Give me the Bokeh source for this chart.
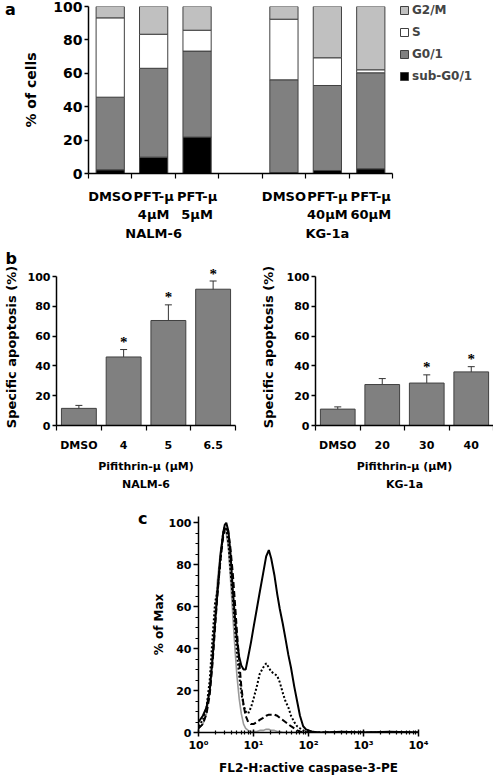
from bokeh.plotting import figure
from bokeh.models import (ColumnDataSource, FixedTicker, Legend, LegendItem, Div,
                          LabelSet, Whisker, TeeHead)
from bokeh.layouts import row
from bokeh.embed import file_html
from bokeh.resources import INLINE

FONT = "DejaVu Sans"

# ---------------- Panel a data ----------------
a_groups = ["NALM-6", "KG-1a"]
a_labels = ["DMSO", "PFT-µ\n4µM", "PFT-µ\n5µM", "DMSO", "PFT-µ\n40µM", "PFT-µ\n60µM"]
a_group_index = [0, 0, 0, 1, 1, 1]
a_series = ["sub-G0/1", "G0/1", "S", "G2/M"]
a_sub = [2.2, 9.8, 21.8, 0.5, 1.8, 2.8]
a_g01 = [43.5, 53.2, 51.5, 55.6, 50.9, 57.5]
a_s = [47.5, 20.4, 12.5, 36.3, 16.6, 1.8]
a_g2m = [6.8, 16.6, 14.2, 7.6, 30.7, 37.9]
a_colors = ["#000000", "#808080", "#ffffff", "#c0c0c0"]

# ---------------- Panel b data ----------------
bL_labels = ["DMSO", "4", "5", "6.5"]
bL_mean = [11.5, 46.0, 70.5, 91.5]
bL_err = [2.0, 5.0, 10.5, 5.5]
bL_sig = [False, True, True, True]
bR_labels = ["DMSO", "20", "30", "40"]
bR_mean = [11.0, 27.5, 28.5, 36.0]
bR_err = [1.5, 4.0, 5.5, 3.5]
bR_sig = [False, False, True, True]

# ---------------- Panel c data ----------------
c_fluor = [1.0, 1.2, 1.4, 1.6, 1.8, 2.0, 2.2, 2.5, 2.8, 3.0, 3.2, 3.5, 3.8, 4.2, 4.6, 5.0,
           5.5, 6.0, 6.6, 7.2, 8.0, 9.0, 10, 11.5, 13, 15, 17, 19, 21, 24, 27, 30, 34, 38,
           43, 48, 55, 62, 70, 80, 90, 100, 115, 130, 150, 200, 400, 1000, 3000, 10000]
c_solid = [5, 8, 12, 20, 35, 52, 66, 84, 95, 99, 100, 96, 86, 68, 55, 44, 36, 32, 30, 30,
           36, 43, 50, 59, 67, 76, 84, 87, 83, 75, 66, 59, 52, 45, 37, 31, 22, 15, 8, 3,
           1.5, 1, 0.5, 0.3, 0, 0, 0.3, 0, 0.3, 0]
c_dotted = [3, 6, 12, 25, 45, 62, 67, 82, 95, 98, 97, 90, 78, 64, 50, 38, 27, 19, 13, 10,
            9, 12, 16, 22, 28, 31, 33, 31, 29, 28, 27, 24, 19, 15, 12, 8, 5, 3, 2, 1,
            0.5, 0, 0, 0, 0, 0, 0, 0, 0, 0]
c_dashed = [2, 4, 9, 18, 33, 50, 65, 82, 93, 97, 98, 95, 88, 76, 62, 48, 34, 22, 13, 8,
            5, 4, 4, 5, 6, 7, 8, 8.5, 8.5, 8.5, 8, 7, 6, 5, 4, 3, 2, 1, 0.5, 0,
            0, 0, 0, 0, 0, 0, 0, 0, 0, 0]
c_gray = [2, 4, 9, 20, 38, 56, 72, 86, 94, 96, 95, 88, 74, 56, 40, 27, 16, 9, 4, 2,
          1, 0.5, 0.5, 0.5, 1, 1, 1.5, 1.5, 1, 1, 0.5, 0.5, 0, 0, 0, 0, 0, 0, 0, 0,
          0, 0, 0, 0, 0, 0, 0, 0, 0, 0]
c_xticks = [1, 10, 100, 1000, 10000]
c_xtick_labels = ["10⁰", "10¹", "10²", "10³", "10⁴"]


def base_fig(**kw):
    p = figure(output_backend="svg", toolbar_location=None, tools="", **kw)
    p.xgrid.visible = False
    p.ygrid.visible = False
    p.outline_line_color = None
    p.background_fill_color = "white"
    p.border_fill_color = "white"
    return p


def style_axis(ax, label_size, title_size):
    ax.axis_line_color = "black"
    ax.axis_line_width = 1.5
    ax.major_tick_line_color = "black"
    ax.major_tick_line_width = 1.5
    ax.minor_tick_line_color = "black"
    ax.minor_tick_line_width = 1.2
    ax.major_label_text_font = FONT
    ax.major_label_text_font_style = "bold"
    ax.major_label_text_font_size = label_size
    ax.major_label_text_color = "black"
    ax.axis_label_text_font = FONT
    ax.axis_label_text_font_style = "bold"
    ax.axis_label_text_font_size = title_size
    ax.axis_label_text_color = "black"


def letter_div(letter, width, height, pad_left, pad_top):
    html = ('<div style="width:%dpx;box-sizing:border-box;padding-left:%dpx;'
            'padding-top:%dpx;font-family:\'DejaVu Sans\';font-weight:bold;'
            'font-size:16px;line-height:18px;color:black">%s</div>'
            % (width, pad_left, pad_top, letter))
    return Div(text=html, width=width, height=height, margin=0)


# ======================= Panel a =======================
pa = base_fig(frame_width=304, frame_height=167, x_range=(0, 7), y_range=(0, 100),
              min_border_left=68, min_border_right=100, min_border_top=6, min_border_bottom=72)
slots = [g * 4 + k + 0.5 for g, k in zip(a_group_index, [0, 1, 2, 0, 1, 2])]
src_a = ColumnDataSource(dict(x=slots, sub=a_sub, g01=a_g01, s=a_s, g2m=a_g2m))
rs = pa.vbar_stack(["sub", "g01", "s", "g2m"], x="x", width=0.65, source=src_a,
                   fill_color=a_colors, line_color="#404040", line_width=1)

tick_text = {}
for i, (x, lab) in enumerate(zip(slots, a_labels)):
    g = a_group_index[i]
    members = [j for j in range(len(slots)) if a_group_index[j] == g]
    if i == members[len(members) // 2]:
        lab = lab + "\n" + a_groups[g]
    tick_text[x] = lab

xa = pa.xaxis[0]
xa.ticker = FixedTicker(ticks=slots, minor_ticks=list(range(0, 8)))
xa.major_label_overrides = tick_text
style_axis(xa, "13px", "13px")
xa.major_tick_out = 0
xa.major_tick_in = 0
xa.minor_tick_out = 5
xa.minor_tick_in = 0
xa.major_label_standoff = 10
xa.major_label_text_line_height = 1.25

ya = pa.yaxis[0]
ya.ticker = FixedTicker(ticks=[0, 20, 40, 60, 80, 100])
style_axis(ya, "14px", "14px")
ya.major_tick_out = 4
ya.major_tick_in = 0
ya.minor_tick_out = 0
ya.minor_tick_in = 0
ya.major_label_standoff = 2
ya.axis_label = "% of cells"
ya.axis_label_standoff = 11

legend = Legend(items=[LegendItem(label=a_series[i], renderers=[rs[i]]) for i in [3, 2, 1, 0]],
                location=(7, 90), glyph_width=10, glyph_height=10, label_height=12,
                spacing=8, padding=0, margin=0, border_line_color=None,
                background_fill_alpha=0, label_text_font=FONT, label_text_font_style="bold",
                label_text_font_size="12px", label_standoff=3)
pa.add_layout(legend, "right")


# ======================= Panel b =======================
def panel_b(fw, left, right, labels, mean, err, sig, cell, title_standoff, letter=None):
    p = base_fig(frame_width=fw, frame_height=157, x_range=(0, 4), y_range=(0, 105.4),
                 min_border_left=left, min_border_right=right, min_border_top=22,
                 min_border_bottom=71)
    xs = [i + 0.5 for i in range(len(labels))]
    src = ColumnDataSource(dict(x=xs, top=mean,
                                upper=[m + e for m, e in zip(mean, err)],
                                lower=[m - e for m, e in zip(mean, err)]))
    p.vbar(x="x", top="top", width=0.78, source=src, fill_color="#808080",
           line_color="#404040", line_width=1)
    p.add_layout(Whisker(base="x", upper="upper", lower="lower", source=src,
                         line_color="#333333", line_width=1,
                         upper_head=TeeHead(size=7, line_color="#333333", line_width=1),
                         lower_head=TeeHead(size=7, line_color="#333333", line_width=1)))
    sx = [x for x, s in zip(xs, sig) if s]
    sy = [m + e + 5 for m, e, s in zip(mean, err, sig) if s]
    ssrc = ColumnDataSource(dict(x=sx, y=sy, t=["*"] * len(sx)))
    p.add_layout(LabelSet(x="x", y="y", text="t", source=ssrc, text_font=FONT,
                          text_font_style="bold", text_font_size="15px",
                          text_color="black",
                          text_align="center", text_baseline="middle"))
    xa = p.xaxis[0]
    xa.ticker = FixedTicker(ticks=xs, minor_ticks=list(range(0, 5)))
    xa.major_label_overrides = {x: l for x, l in zip(xs, labels)}
    style_axis(xa, "11px", "11px")
    xa.major_tick_out = 0
    xa.major_tick_in = 0
    xa.minor_tick_out = 5
    xa.minor_tick_in = 0
    xa.major_label_standoff = 8
    xa.axis_label = "Pifithrin-µ (µM)\n" + cell
    xa.axis_label_standoff = 5
    xa.axis_label_text_line_height = 1.4
    ya = p.yaxis[0]
    ya.ticker = FixedTicker(ticks=[0, 20, 40, 60, 80, 100])
    ya.bounds = (0, 100)
    style_axis(ya, "11px", "13px")
    ya.major_tick_out = 4
    ya.major_tick_in = 0
    ya.minor_tick_out = 0
    ya.minor_tick_in = 0
    ya.major_label_standoff = 2
    ya.axis_label = "Specific apoptosis (%)"
    ya.axis_label_standoff = title_standoff
    if letter:
        p.title.text = letter
        p.title.align = "left"
        p.title.offset = -51
        p.title.standoff = 2
        p.title.text_font = FONT
        p.title.text_font_style = "bold"
        p.title.text_font_size = "16px"
        p.title.text_color = "black"
    return p


pbL = panel_b(179, 53, 13, bL_labels, bL_mean, bL_err, bL_sig, "NALM-6", 6, letter="b")
pbR = panel_b(178, 67, 2, bR_labels, bR_mean, bR_err, bR_sig, "KG-1a", 8)

# ======================= Panel c =======================
pc = base_fig(frame_width=220, frame_height=216, x_axis_type="log", x_range=(1, 10000),
              y_range=(0, 103), min_border_left=45, min_border_right=79, min_border_top=20,
              min_border_bottom=46)
src_c = ColumnDataSource(dict(x=c_fluor, solid=c_solid, dotted=c_dotted, dashed=c_dashed,
                              gray=c_gray))
pc.line("x", "gray", source=src_c, line_color="#9a9a9a", line_width=1.6)
pc.line("x", "dashed", source=src_c, line_color="black", line_width=2, line_dash="6 3")
pc.line("x", "dotted", source=src_c, line_color="black", line_width=2, line_dash="2 2")
pc.line("x", "solid", source=src_c, line_color="black", line_width=2)

xc = pc.xaxis[0]
minor = [k * 10 ** d for d in range(0, 4) for k in range(2, 10)]
xc.ticker = FixedTicker(ticks=c_xticks, minor_ticks=minor)
xc.major_label_overrides = {t: l for t, l in zip(c_xticks, c_xtick_labels)}
style_axis(xc, "11px", "12px")
xc.major_tick_out = 4
xc.major_tick_in = 3
xc.minor_tick_out = 2
xc.minor_tick_in = 2
xc.major_label_standoff = 2
xc.axis_label = "FL2-H:active caspase-3-PE"
xc.axis_label_standoff = 6

yc = pc.yaxis[0]
yc.ticker = FixedTicker(ticks=[0, 20, 40, 60, 80, 100],
                        minor_ticks=[v for v in range(0, 101, 5) if v % 20])
style_axis(yc, "11px", "12px")
yc.major_tick_out = 5
yc.major_tick_in = 0
yc.minor_tick_out = 3
yc.minor_tick_in = 0
yc.major_label_standoff = 2
yc.axis_label = "% of Max"
yc.axis_label_standoff = 0

div_a = letter_div("a", 20, 245, 5, 1)
div_c = letter_div("c", 148, 282, 138, 14)

open("out.html", "w").write(file_html([row(div_a, pa), row(pbL, pbR), row(div_c, pc)], INLINE))
